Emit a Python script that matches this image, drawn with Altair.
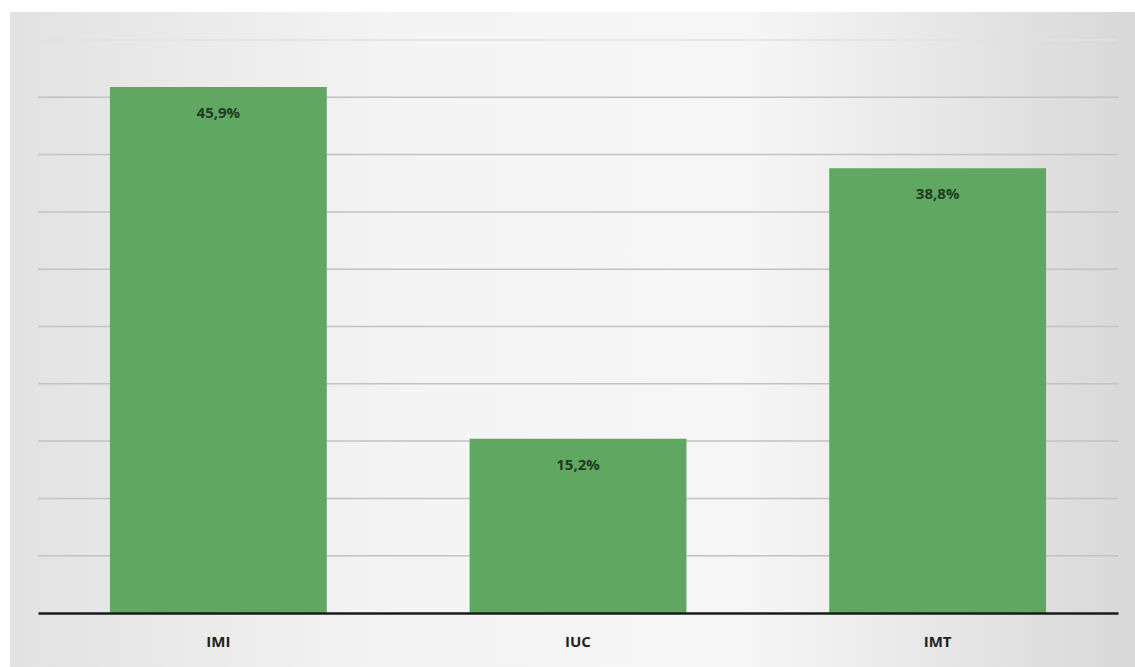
import altair as alt
import pandas as pd

categories = ["IMI", "IUC", "IMT"]
values = [45.9, 15.2, 38.8]
grid_values = [5, 10, 15, 20, 25, 30, 35, 40, 45, 50]

df = pd.DataFrame({
    "cat": categories,
    "val": values,
    "label": [f"{v:.1f}".replace(".", ",") + "%" for v in values],
})
grid_df = pd.DataFrame({"g": grid_values})

W, H = 1080, 573

x_enc = alt.X("cat:N", sort=categories,
              scale=alt.Scale(paddingInner=0.397, paddingOuter=0.2),
              axis=alt.Axis(title=None, labelAngle=0, labelFont="Open Sans",
                            labelFontSize=15, labelFontWeight="bold",
                            labelColor="#222222", labelPadding=21,
                            ticks=False, domain=True, domainColor="#1a1a1a",
                            domainWidth=2.5, zindex=1))
y_scale = alt.Scale(domain=[0, 50], nice=False)

bg = alt.Chart(pd.DataFrame({"a": [0]})).mark_rect(
    color=alt.LinearGradient(
        gradient="linear", x1=0, x2=1, y1=0, y2=0,
        stops=[alt.GradientStop(color="#e2e2e2", offset=0),
               alt.GradientStop(color="#f4f4f4", offset=0.35),
               alt.GradientStop(color="#f6f6f6", offset=0.65),
               alt.GradientStop(color="#d8d8d8", offset=1)])
).encode(x=alt.value(-28), x2=alt.value(1097), y=alt.value(-28), y2=alt.value(627))

grid = alt.Chart(grid_df).mark_rule(strokeWidth=1.5).encode(
    y=alt.Y("g:Q", scale=y_scale, axis=None),
    color=alt.condition("datum.g == 50", alt.value("#e2e2e2"), alt.value("#c2c2c2")),
)

bars = alt.Chart(df).mark_bar(color="#60a862").encode(
    x=x_enc,
    y=alt.Y("val:Q", scale=y_scale, axis=None),
)

text = alt.Chart(df).mark_text(dy=26, font="Open Sans", fontSize=15,
                               fontWeight="bold", color="#1f3a22").encode(
    x=alt.X("cat:N", sort=categories),
    y=alt.Y("val:Q", scale=y_scale),
    text="label:N",
)

chart = alt.layer(bg, grid, bars, text).properties(
    width=W, height=H,
    autosize=alt.AutoSizeParams(type="none"),
    padding={"left": 38, "top": 40, "right": 17, "bottom": 54},
).configure_view(stroke=None).configure(background="white")

chart.save("out.html", embed_options={"renderer": "svg", "actions": False})
